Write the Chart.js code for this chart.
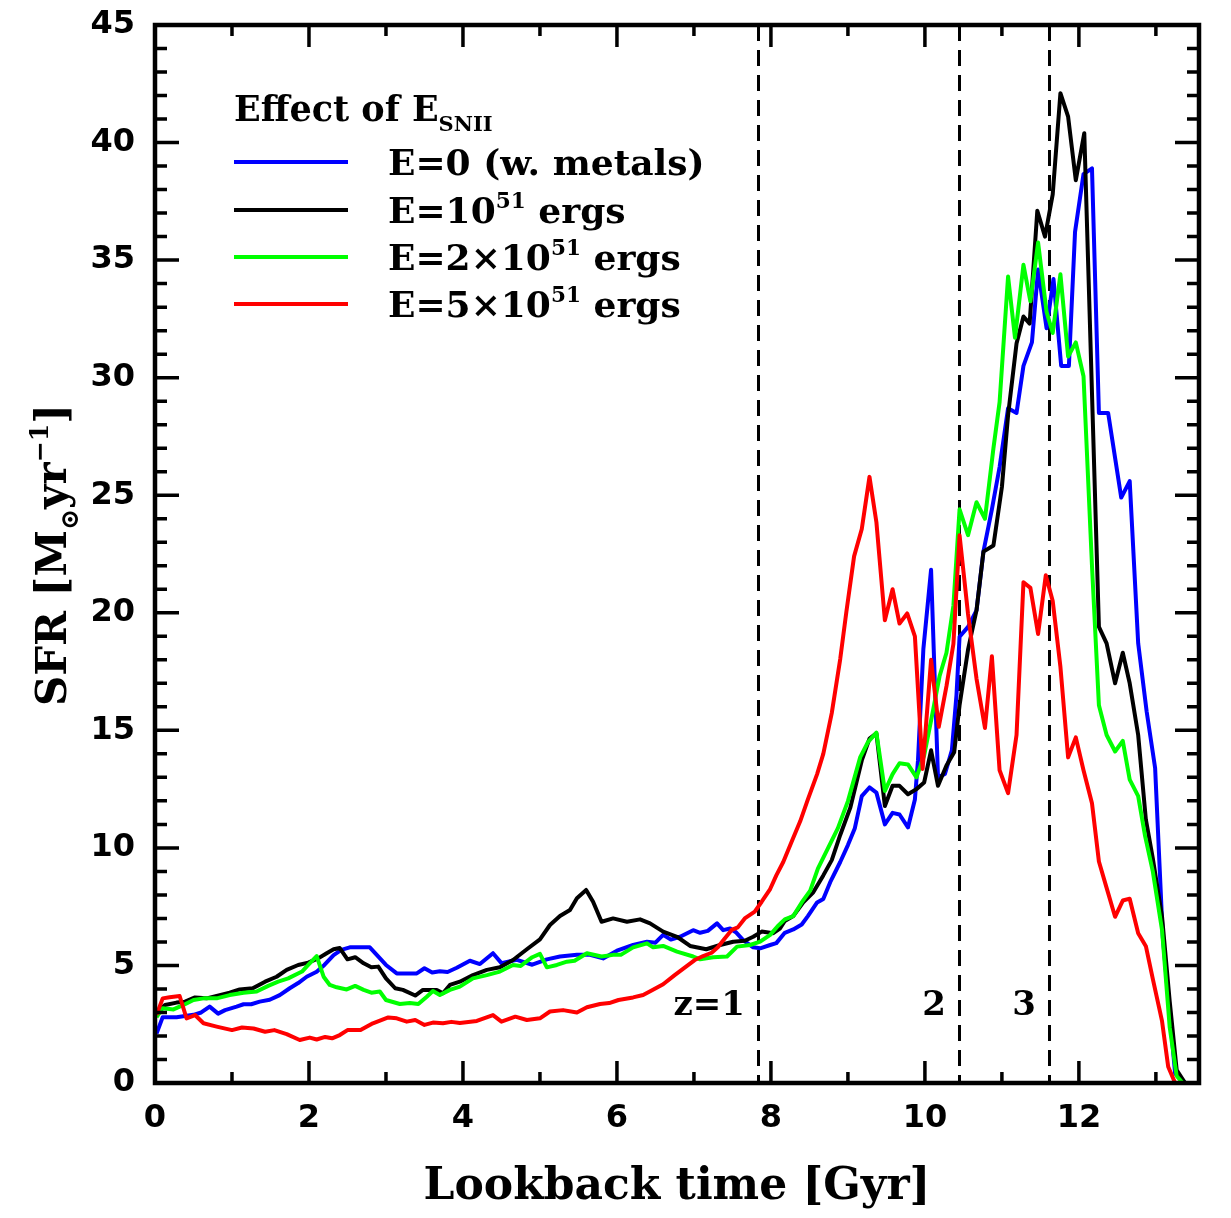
<!DOCTYPE html>
<html>
<head>
<meta charset="utf-8">
<title>SFR vs lookback time</title>
<script src="https://cdn.jsdelivr.net/npm/chart.js@4.4.1/dist/chart.umd.min.js"></script>
<style>
  html, body { margin: 0; padding: 0; background: #fff; }
</style>
</head>
<body>
<canvas id="sfr" width="1231" height="1218"></canvas>
<script>
/* ── data ───────────────────────────────────────────────── */
const tBlue = [0.02,0.1,0.28,0.5,0.6,0.71,0.82,0.91,1.06,1.15,1.25,1.36,1.49,1.62,1.75,1.86,1.97,2.1,2.2,2.32,2.42,2.53,2.79,3.0,3.14,3.4,3.5,3.6,3.7,3.8,3.92,4.09,4.22,4.39,4.5,4.7,4.9,5.09,5.26,5.48,5.65,5.82,6.0,6.21,6.39,6.5,6.6,6.7,6.82,6.99,7.08,7.18,7.3,7.38,7.47,7.55,7.64,7.77,7.86,7.99,8.07,8.18,8.29,8.4,8.48,8.6,8.68,8.77,8.9,9.0,9.09,9.18,9.28,9.37,9.48,9.58,9.67,9.78,9.87,9.91,9.98,10.08,10.17,10.26,10.35,10.41,10.45,10.56,10.67,10.76,10.87,10.97,11.08,11.19,11.28,11.39,11.47,11.58,11.67,11.77,11.87,11.95,12.06,12.17,12.26,12.38,12.55,12.66,12.77,12.88,12.99,13.09,13.25,13.38];
const sfrBlue = [2.1,2.8,2.8,2.9,3.0,3.25,2.95,3.1,3.25,3.35,3.35,3.46,3.54,3.74,4.03,4.25,4.52,4.73,5.02,5.44,5.66,5.77,5.77,5.02,4.66,4.66,4.88,4.7,4.75,4.72,4.9,5.2,5.06,5.52,5.1,5.24,5.03,5.26,5.38,5.45,5.45,5.3,5.63,5.87,6.01,5.97,6.3,6.1,6.22,6.5,6.39,6.47,6.79,6.5,6.57,6.4,6.08,5.77,5.73,5.87,5.95,6.39,6.53,6.74,7.1,7.68,7.83,8.54,9.4,10.12,10.84,12.2,12.57,12.35,11.0,11.49,11.42,10.87,12.06,13.72,18.46,21.83,13.0,13.14,14.15,16.5,18.98,19.4,20.1,22.6,24.4,26.2,28.7,28.5,30.5,31.5,34.6,32.1,34.2,30.5,30.5,36.2,38.66,38.9,28.5,28.5,24.9,25.6,18.7,15.8,13.4,6.2,0.4,0];

const tBlack = [0.02,0.13,0.28,0.39,0.52,0.67,0.8,0.97,1.1,1.27,1.43,1.58,1.71,1.86,1.99,2.12,2.23,2.32,2.4,2.5,2.6,2.71,2.81,2.9,3.0,3.12,3.22,3.38,3.48,3.66,3.74,3.83,3.96,4.13,4.31,4.48,4.65,4.83,5.0,5.13,5.26,5.39,5.48,5.6,5.69,5.8,5.95,6.13,6.3,6.43,6.6,6.78,6.95,7.16,7.34,7.51,7.66,7.77,7.88,8.03,8.12,8.18,8.29,8.42,8.55,8.68,8.79,8.9,9.03,9.18,9.28,9.37,9.48,9.58,9.67,9.78,9.89,9.99,10.08,10.17,10.28,10.38,10.45,10.56,10.67,10.76,10.89,11.0,11.08,11.19,11.28,11.36,11.46,11.56,11.66,11.76,11.86,11.96,12.07,12.26,12.36,12.47,12.57,12.66,12.77,12.87,12.96,13.08,13.18,13.27,13.38];
const sfrBlack = [3.0,3.32,3.42,3.46,3.64,3.6,3.7,3.84,3.98,4.03,4.31,4.52,4.81,5.02,5.12,5.3,5.52,5.69,5.74,5.26,5.35,5.09,4.92,4.95,4.45,4.03,3.96,3.72,3.96,3.96,3.82,4.17,4.31,4.59,4.81,4.92,5.23,5.69,6.11,6.72,7.1,7.36,7.86,8.21,7.71,6.86,7.0,6.86,6.96,6.79,6.44,6.22,5.83,5.69,5.87,6.01,6.05,6.22,6.44,6.37,6.58,6.89,7.1,7.68,8.11,8.83,9.48,10.55,11.7,13.72,14.65,14.87,11.78,12.64,12.64,12.28,12.5,12.78,14.15,12.64,13.5,14.07,16.07,18.43,20.1,22.6,22.86,25.35,28.4,31.45,32.6,32.3,37.1,36.0,37.8,42.1,41.1,38.4,40.4,19.4,18.7,17.0,18.3,17.0,14.8,11.2,9.56,7.07,3.46,0.55,0];

const tGreen = [0.02,0.1,0.24,0.37,0.5,0.63,0.8,0.97,1.15,1.32,1.47,1.6,1.73,1.91,1.99,2.1,2.19,2.27,2.36,2.49,2.6,2.71,2.81,2.92,3.0,3.18,3.31,3.42,3.53,3.61,3.7,3.83,3.96,4.13,4.31,4.48,4.65,4.75,4.9,5.0,5.09,5.22,5.35,5.45,5.61,5.8,5.95,6.05,6.21,6.39,6.47,6.6,6.78,6.99,7.08,7.25,7.43,7.56,7.73,7.86,7.99,8.09,8.18,8.29,8.4,8.51,8.61,8.74,8.87,9.0,9.16,9.26,9.37,9.48,9.58,9.67,9.78,9.89,9.99,10.09,10.19,10.28,10.37,10.45,10.56,10.67,10.78,10.89,10.97,11.08,11.17,11.28,11.37,11.47,11.58,11.66,11.76,11.86,11.96,12.06,12.17,12.26,12.36,12.47,12.57,12.66,12.77,12.86,12.96,13.08,13.18,13.27,13.35];
const sfrGreen = [2.8,3.18,3.13,3.32,3.53,3.6,3.6,3.74,3.84,3.89,4.13,4.31,4.45,4.74,5.02,5.4,4.52,4.17,4.07,3.98,4.13,3.96,3.84,3.89,3.53,3.36,3.4,3.36,3.67,3.91,3.74,3.96,4.1,4.45,4.59,4.74,5.02,4.98,5.35,5.49,4.92,5.02,5.16,5.2,5.52,5.38,5.45,5.45,5.77,5.94,5.77,5.83,5.59,5.38,5.26,5.35,5.38,5.8,5.87,6.01,6.3,6.68,6.96,7.1,7.68,8.18,9.12,9.98,10.84,11.99,13.86,14.5,14.9,12.42,13.14,13.6,13.55,13.0,13.93,15.58,17.3,18.3,20.3,24.4,23.3,24.7,24.0,27.0,28.96,34.3,31.7,34.8,33.25,35.75,32.8,31.9,34.4,30.9,31.5,30.06,22.0,16.07,14.8,14.1,14.55,12.9,12.2,10.5,9.0,6.5,2.36,0.3,0];

const tRed = [0.02,0.1,0.19,0.32,0.41,0.52,0.63,0.8,1.0,1.13,1.28,1.43,1.55,1.71,1.88,2.01,2.1,2.21,2.3,2.4,2.5,2.67,2.83,3.03,3.14,3.27,3.38,3.5,3.61,3.74,3.85,3.96,4.18,4.39,4.5,4.68,4.83,5.0,5.13,5.3,5.48,5.61,5.78,5.9,6.02,6.21,6.34,6.45,6.6,6.75,6.91,7.01,7.12,7.23,7.31,7.4,7.49,7.57,7.66,7.79,7.88,7.99,8.07,8.16,8.27,8.38,8.48,8.6,8.68,8.79,8.9,8.98,9.08,9.18,9.28,9.37,9.48,9.58,9.67,9.77,9.87,9.97,10.08,10.18,10.28,10.37,10.45,10.56,10.67,10.78,10.87,10.97,11.08,11.19,11.28,11.37,11.47,11.57,11.66,11.76,11.86,11.96,12.06,12.17,12.26,12.36,12.47,12.57,12.66,12.77,12.87,12.96,13.08,13.16,13.25];
const sfrRed = [2.9,3.6,3.65,3.7,2.75,2.89,2.54,2.4,2.25,2.36,2.32,2.18,2.25,2.08,1.83,1.93,1.85,1.96,1.9,2.04,2.25,2.25,2.54,2.79,2.75,2.61,2.68,2.47,2.57,2.54,2.6,2.55,2.64,2.89,2.61,2.82,2.68,2.75,3.04,3.1,3.0,3.22,3.36,3.4,3.53,3.64,3.74,3.93,4.2,4.59,4.98,5.23,5.4,5.54,5.77,6.15,6.51,6.62,7.0,7.29,7.71,8.25,8.83,9.4,10.27,11.13,12.06,13.14,14.0,15.73,18.03,20.04,22.4,23.56,25.78,23.85,19.68,21.0,19.54,19.97,19.0,13.36,18.0,15.15,16.88,18.67,23.3,19.95,17.2,15.1,18.15,13.3,12.33,14.8,21.3,21.06,19.1,21.6,20.5,17.7,13.85,14.7,13.3,11.9,9.42,8.3,7.07,7.76,7.84,6.37,5.82,4.43,2.63,0.69,0];

const seriesLabels = ['E=0 (w. metals)', 'E=10^{51} ergs', 'E=2\u00d710^{51} ergs', 'E=5\u00d710^{51} ergs'];
const seriesColors = ['#0000ff', '#000000', '#00ff00', '#ff0000'];
const legendTitle = 'Effect of E_{SNII}';

// redshift markers: lookback time [Gyr] and their labels
const zTimes = [7.83, 10.44, 11.61];
const zLabels = ['z=1', '2', '3'];

const xTicks = [0, 2, 4, 6, 8, 10, 12];
const yTicks = [0, 5, 10, 15, 20, 25, 30, 35, 40, 45];
const xMax = 13.56;

/* ── helpers ────────────────────────────────────────────── */
const SERIF = '"DejaVu Serif", serif';
const SANS = '"DejaVu Sans", sans-serif';

function richParts(str) {
  return str.split(/(\^\{[^}]*\}|_\{[^}]*\})/).filter(p => p).map(p => {
    if (p.startsWith('^{')) return { txt: p.slice(2, -1), k: 0.6, dy: -0.42 };
    if (p.startsWith('_{')) return { txt: p.slice(2, -1), k: 0.6, dy: 0.28 };
    return { txt: p, k: 1, dy: 0 };
  });
}
function richWidth(ctx, str, size) {
  let w = 0;
  richParts(str).forEach(p => { ctx.font = `bold ${size * p.k}px ${SERIF}`; w += ctx.measureText(p.txt).width; });
  return w;
}
function drawRich(ctx, x, y, str, size) {
  richParts(str).forEach(p => {
    ctx.font = `bold ${size * p.k}px ${SERIF}`;
    ctx.fillText(p.txt, x, y + p.dy * size);
    x += ctx.measureText(p.txt).width;
  });
  return x;
}
const pts = (t, v) => t.map((x, i) => ({ x, y: v[i] }));

/* ── frame, inward ticks, redshift lines, legend, y title ── */
const decor = {
  id: 'decor',
  beforeDatasetsDraw(chart) {
    const { ctx, chartArea: a, scales: { x } } = chart;
    ctx.save();
    ctx.strokeStyle = '#000';
    ctx.lineWidth = 3;
    ctx.setLineDash([16, 9]);
    zTimes.forEach(t => {
      const px = Math.round(x.getPixelForValue(t)) + 0.5;
      ctx.beginPath(); ctx.moveTo(px, a.top); ctx.lineTo(px, a.bottom); ctx.stroke();
    });
    ctx.setLineDash([]);
    ctx.fillStyle = '#000';
    ctx.textAlign = 'right';
    ctx.textBaseline = 'alphabetic';
    ctx.font = `bold 34px ${SERIF}`;
    zTimes.forEach((t, i) => ctx.fillText(zLabels[i], x.getPixelForValue(t) - 13, 1015));
    ctx.restore();
  },
  afterDraw(chart) {
    const { ctx, chartArea: a, scales: { x, y } } = chart;
    ctx.save();
    ctx.strokeStyle = '#000';
    ctx.lineCap = 'butt';
    // ticks on all four sides, pointing inward
    ctx.lineWidth = 3.5;
    for (let t = 0; t <= Math.floor(xMax); t++) {
      const px = x.getPixelForValue(t);
      const len = t % 2 === 0 ? 22 : 11;
      ctx.beginPath();
      ctx.moveTo(px, a.bottom); ctx.lineTo(px, a.bottom - len);
      ctx.moveTo(px, a.top); ctx.lineTo(px, a.top + len);
      ctx.stroke();
    }
    for (let v = 0; v <= 45; v++) {
      const py = y.getPixelForValue(v);
      const len = v % 5 === 0 ? 24 : 12;
      ctx.beginPath();
      ctx.moveTo(a.left, py); ctx.lineTo(a.left + len, py);
      ctx.moveTo(a.right, py); ctx.lineTo(a.right - len, py);
      ctx.stroke();
    }
    ctx.lineWidth = 4.5;
    ctx.strokeRect(a.left, a.top, a.right - a.left, a.bottom - a.top);

    // legend
    ctx.fillStyle = '#000';
    ctx.textBaseline = 'alphabetic';
    ctx.textAlign = 'left';
    drawRich(ctx, 234, 121, legendTitle, 35);
    const rows = [162, 210, 257, 304];
    seriesLabels.forEach((lab, i) => {
      ctx.strokeStyle = seriesColors[i];
      ctx.lineWidth = 4;
      ctx.beginPath(); ctx.moveTo(234, rows[i]); ctx.lineTo(348, rows[i]); ctx.stroke();
      ctx.fillStyle = '#000';
      drawRich(ctx, 388, rows[i] + 13, lab, 36);
    });

    // y axis title with subscript / superscript
    const yTitle = 'SFR [M_{\u2299}yr^{\u22121}]';
    ctx.translate(66, 555);
    ctx.rotate(-Math.PI / 2);
    drawRich(ctx, -richWidth(ctx, yTitle, 42) / 2, 0, yTitle, 42);
    ctx.restore();
  }
};

/* ── chart ──────────────────────────────────────────────── */
const tSets = [tBlue, tBlack, tGreen, tRed];
const vSets = [sfrBlue, sfrBlack, sfrGreen, sfrRed];

new Chart(document.getElementById('sfr'), {
  type: 'line',
  data: {
    datasets: seriesLabels.map((lab, i) => ({
      label: lab.replace(/\^\{51\}/, '\u2075\u00b9'),
      data: pts(tSets[i], vSets[i]),
      borderColor: seriesColors[i],
      borderWidth: 4,
      pointRadius: 0,
      tension: 0,
      borderJoinStyle: 'round',
      fill: false,
      order: 4 - i
    }))
  },
  options: {
    responsive: false,
    animation: false,
    layout: { padding: { left: 0, top: 25, right: 32, bottom: 0 } },
    plugins: { legend: { display: false }, tooltip: { enabled: false } },
    scales: {
      x: {
        type: 'linear', min: 0, max: xMax,
        afterFit: s => { s.height = 135; s.paddingLeft = 0; s.paddingRight = 0; },
        afterBuildTicks: s => { s.ticks = xTicks.map(v => ({ value: v })); },
        grid: { display: false, drawTicks: false },
        border: { display: false },
        ticks: { padding: 16, color: '#000', font: { family: SANS, size: 32, weight: 'bold' } },
        title: { display: true, text: 'Lookback time [Gyr]', color: '#000', padding: { top: 0, bottom: 4 },
                 font: { family: SERIF, size: 44, weight: 'bold' } }
      },
      y: {
        min: 0, max: 45,
        afterFit: s => { s.width = 155; s.paddingTop = 0; s.paddingBottom = 0; },
        afterBuildTicks: s => { s.ticks = yTicks.map(v => ({ value: v })); },
        grid: { display: false, drawTicks: false },
        border: { display: false },
        ticks: { padding: 20, color: '#000', font: { family: SANS, size: 32, weight: 'bold' } }
      }
    }
  },
  plugins: [decor]
});
</script>
</body>
</html>
